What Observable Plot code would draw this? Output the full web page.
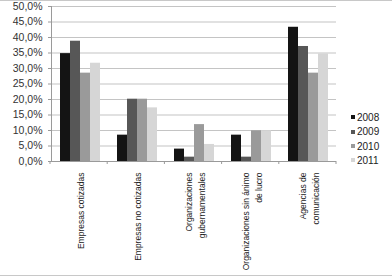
<!DOCTYPE html>
<html><head><meta charset="utf-8">
<script src="https://cdn.jsdelivr.net/npm/d3@7"></script>
<script src="https://cdn.jsdelivr.net/npm/@observablehq/plot@0.6"></script>
<style>
body{margin:0;background:#fff;}
#wrap{position:relative;width:392px;height:276px;font-family:"Liberation Sans",Arial,sans-serif;overflow:hidden;}
#wrap svg{position:absolute;left:0;top:0;}
#border{position:absolute;left:0;top:0;width:392px;height:276px;box-sizing:border-box;border-top:1px solid #c8c8c8;border-bottom:1px solid #c8c8c8;pointer-events:none;}
#legend{position:absolute;left:351px;top:111px;font-size:10px;color:#222;}
#legend .item{height:14.3px;line-height:14.3px;white-space:nowrap;}
#legend .sw{display:inline-block;width:4px;height:4px;margin-right:2px;vertical-align:middle;position:relative;top:-1px;}
</style></head><body>
<div id="wrap"><div id="legend"></div><div id="border"></div></div>
<script>
const categories = ["Empresas cotizadas","Empresas no cotizadas","Organizaciones gubernamentales","Organizaciones sin ánimo de lucro","Agencias de comunicación"];
const labels = ["Empresas cotizadas","Empresas no cotizadas","Organizaciones\ngubernamentales","Organizaciones sin ánimo\nde lucro","Agencias de\ncomunicación"];
const years = ["2008","2009","2010","2011"];
const v2008 = [34.8, 8.5, 4.0, 8.5, 43.3];
const v2009 = [38.8, 20.1, 1.4, 1.4, 37.1];
const v2010 = [28.5, 20.1, 11.9, 9.9, 28.5];
const v2011 = [31.7, 17.3, 5.5, 9.9, 34.7];
const yTicks = [0,5,10,15,20,25,30,35,40,45,50];
const colors = ["#141414","#575757","#9a9a9a","#d6d6d6"];

const series = [v2008, v2009, v2010, v2011];
const data = categories.flatMap((c, i) => years.map((yr, j) => ({cat: c, year: yr, value: series[j][i]})));

const plot = Plot.plot({
  width: 392, height: 276,
  marginLeft: 50, marginRight: 56, marginTop: 6, marginBottom: 115,
  style: {fontFamily: "Liberation Sans, Arial, sans-serif", background: "transparent"},
  fx: {domain: categories, padding: 0, axis: null},
  x: {domain: years, paddingInner: 0, paddingOuter: 0.8, axis: null},
  y: {domain: [0, 50], axis: null},
  color: {domain: years, range: colors},
  marks: [
    Plot.ruleY(yTicks.slice(1), {stroke: "#c4c4c4", strokeWidth: 1.2}),
    Plot.barY(data, {fx: "cat", x: "year", y: "value", fill: "year"}),
    Plot.ruleY([0], {stroke: "#9a9a9a"}),
    Plot.frame({anchor: "left", facetAnchor: "left", stroke: "#9a9a9a"}),
    Plot.axisY({ticks: yTicks, label: null, tickFormat: d => d.toFixed(1).replace(".", ",") + "%", tickSize: 3, tickPadding: 6, fontSize: 10.5, stroke: "#9a9a9a", fill: "#333"}),
    Plot.text(categories, {fx: d => d, text: (d, i) => labels[i], frameAnchor: "bottom", dy: 11, rotate: -90, textAnchor: "end", lineAnchor: "middle", fontSize: 8.5, lineHeight: 1.55, fill: "#222"})
  ]
});
document.getElementById("wrap").prepend(plot);

// category boundary ticks on the baseline, from the fx scale
const fx = plot.scale("fx");
const y = plot.scale("y");
const [r0, r1] = fx.range;
const step = (r1 - r0) / categories.length;
const y0 = y.apply(0);
const svg = d3.select(plot);
d3.range(categories.length + 1).forEach(i => {
  svg.append("line").attr("x1", r0 + i * step).attr("x2", r0 + i * step)
    .attr("y1", y0).attr("y2", y0 + 3).attr("stroke", "#9a9a9a");
});

const legend = document.getElementById("legend");
years.forEach((yr, j) => {
  const d = document.createElement("div");
  d.className = "item";
  d.innerHTML = `<span class="sw" style="background:${colors[j]}"></span>${yr}`;
  legend.appendChild(d);
});
</script>
</body></html>
